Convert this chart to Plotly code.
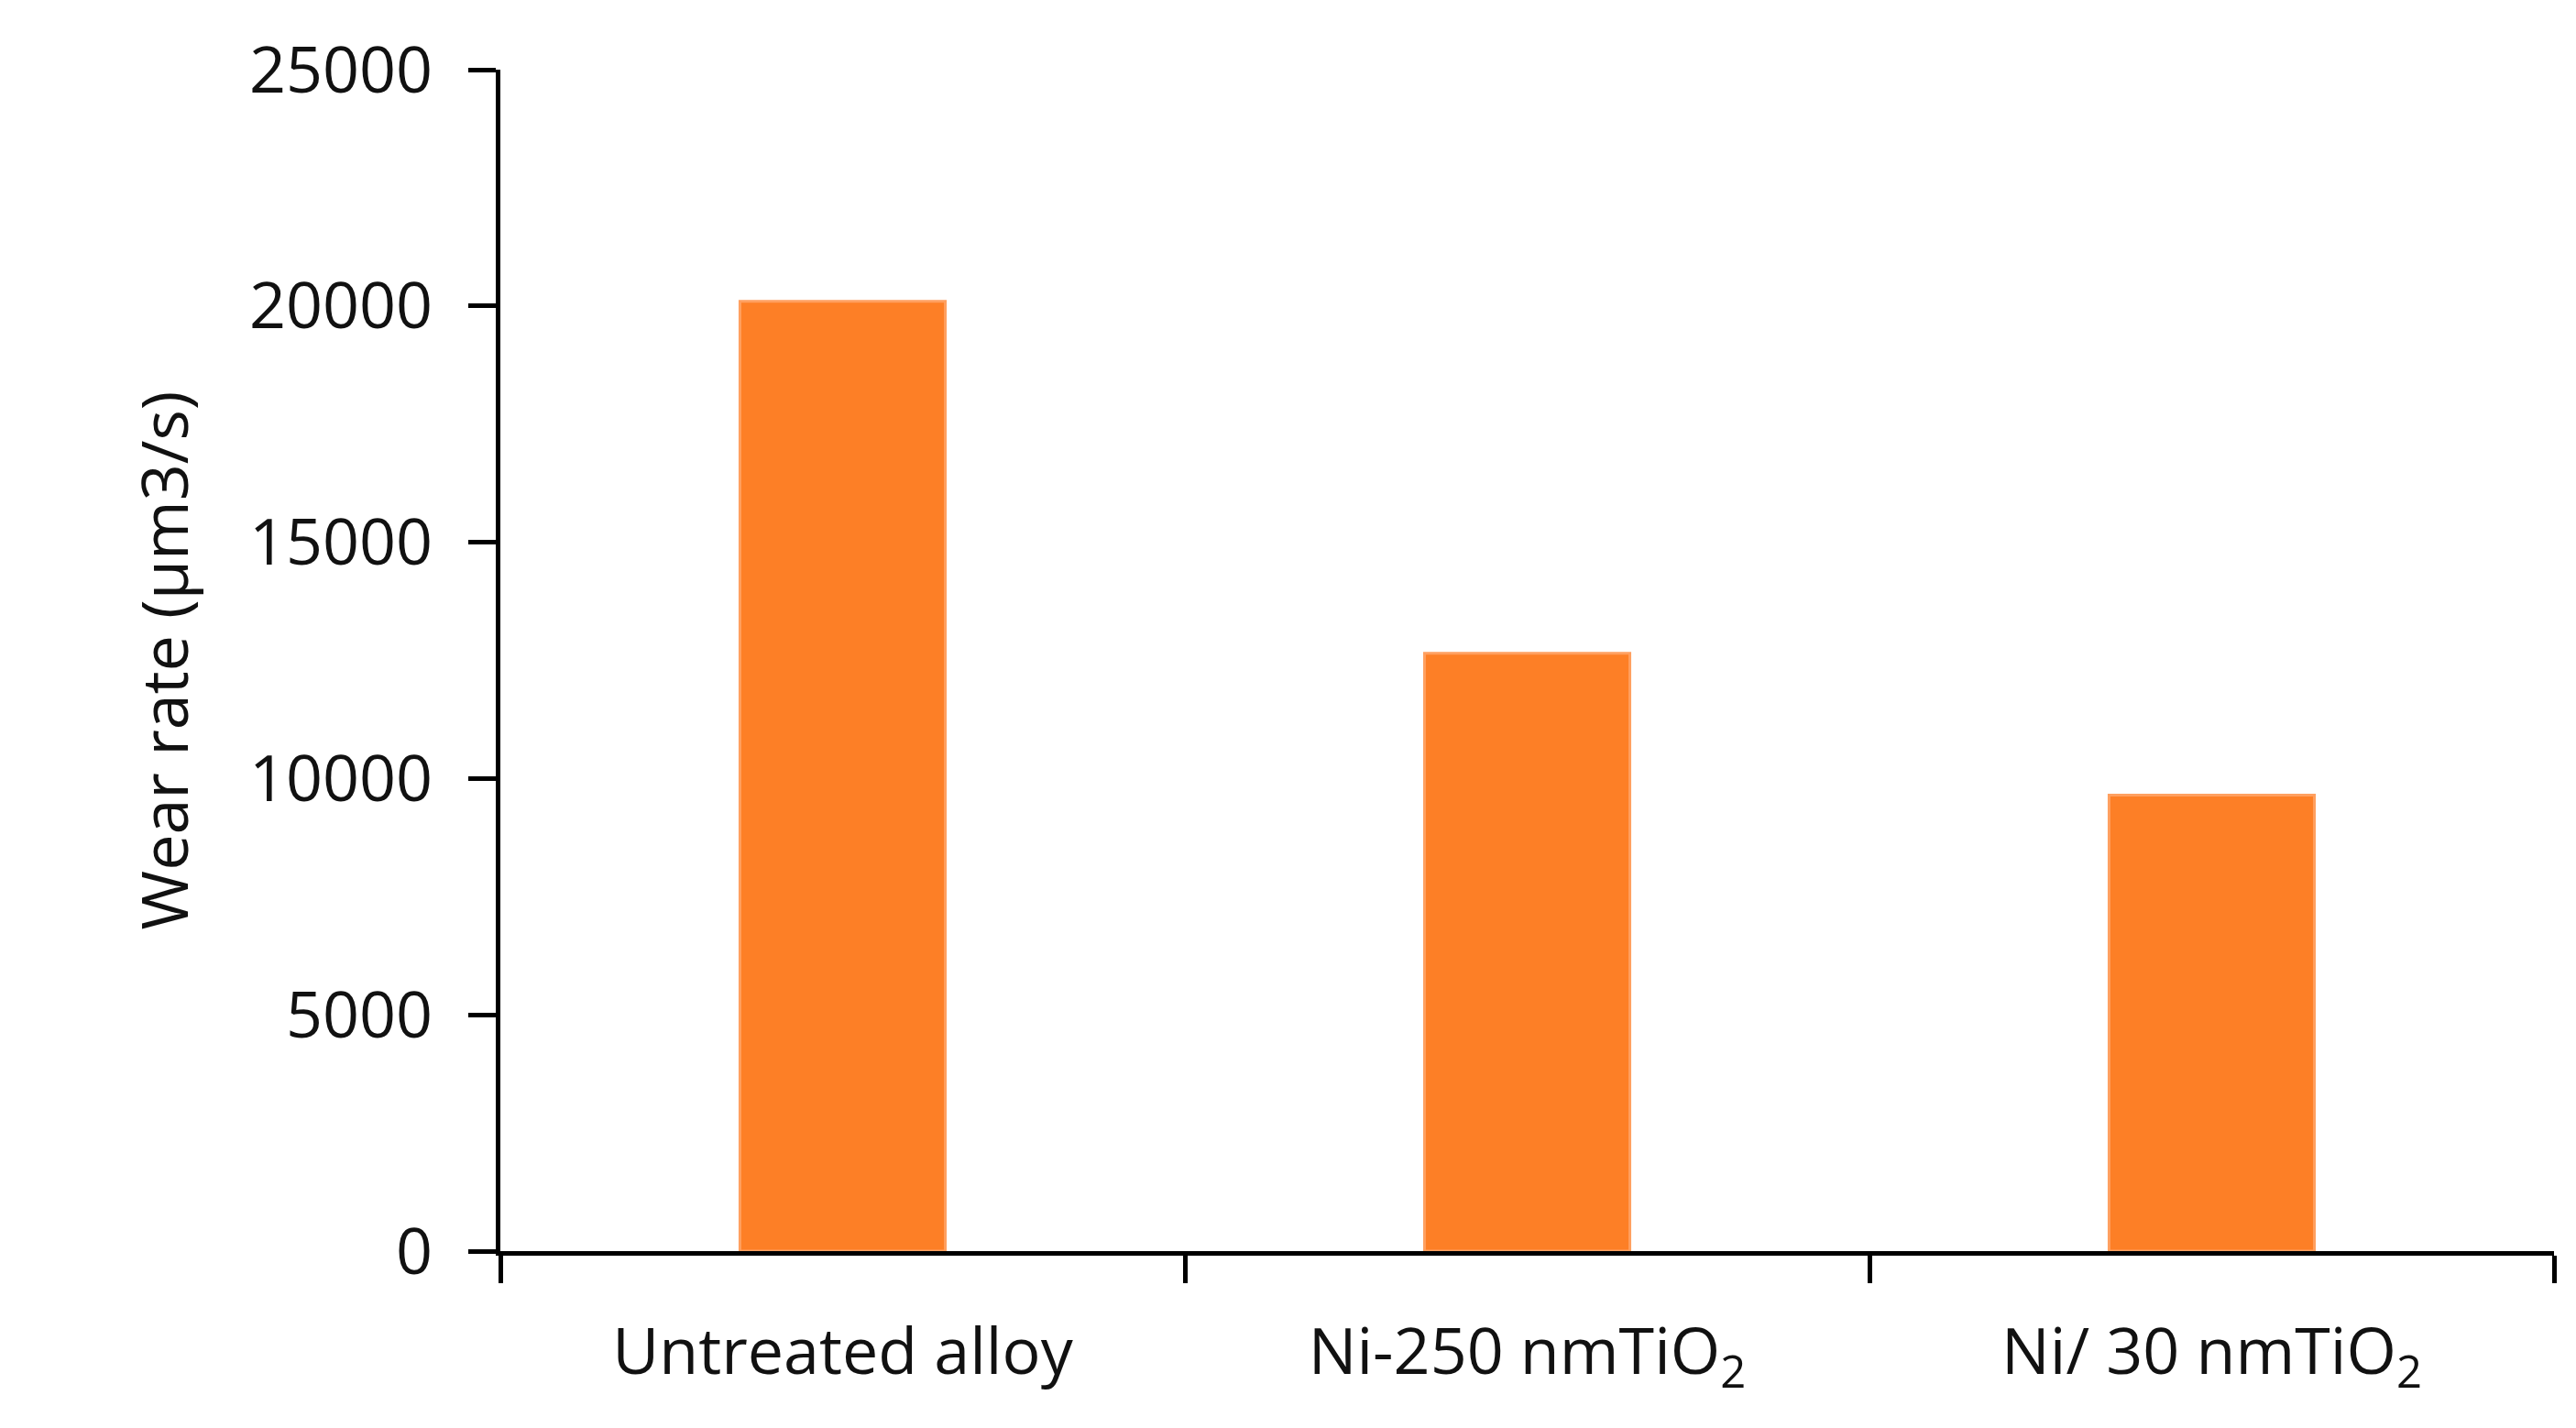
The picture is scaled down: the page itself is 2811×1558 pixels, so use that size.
import plotly.graph_objects as go

categories = ["Untreated alloy", "Ni-250 nmTiO<sub>2</sub>", "Ni/ 30 nmTiO<sub>2</sub>"]
wear_rate = [20100, 12650, 9650]
y_ticks = [0, 5000, 10000, 15000, 20000, 25000]
y_tick_labels = ["0", "5000", "10000", "15000", "20000", "25000"]

fig = go.Figure(go.Bar(
    x=categories, y=wear_rate, width=0.3,
    marker=dict(color="#FD7F26", line=dict(color="#FFA060", width=3)),
))
font = dict(family="Open Sans, Liberation Sans, sans-serif", size=70, color="#111")
fig.update_layout(
    width=2811, height=1558, plot_bgcolor="white", paper_bgcolor="white",
    margin=dict(l=538, r=32, t=68, b=201), showlegend=False, font=font,
)
fig.update_xaxes(showline=True, linecolor="black", linewidth=5, ticks="outside",
                 tickson="boundaries", ticklen=30, tickwidth=5, tickcolor="black",
                 tickfont=font, ticklabelstandoff=45)
fig.update_yaxes(range=[0, 25000], tickvals=y_ticks, ticktext=y_tick_labels,
                 showline=True, linecolor="black",
                 linewidth=5, ticks="outside", ticklen=30, tickwidth=5, tickcolor="black",
                 showgrid=False, zeroline=False, tickfont=font, ticklabelstandoff=25,
                 title=dict(text="Wear rate (µm3/s)", font=font, standoff=45))
fig.write_html("out.html")
